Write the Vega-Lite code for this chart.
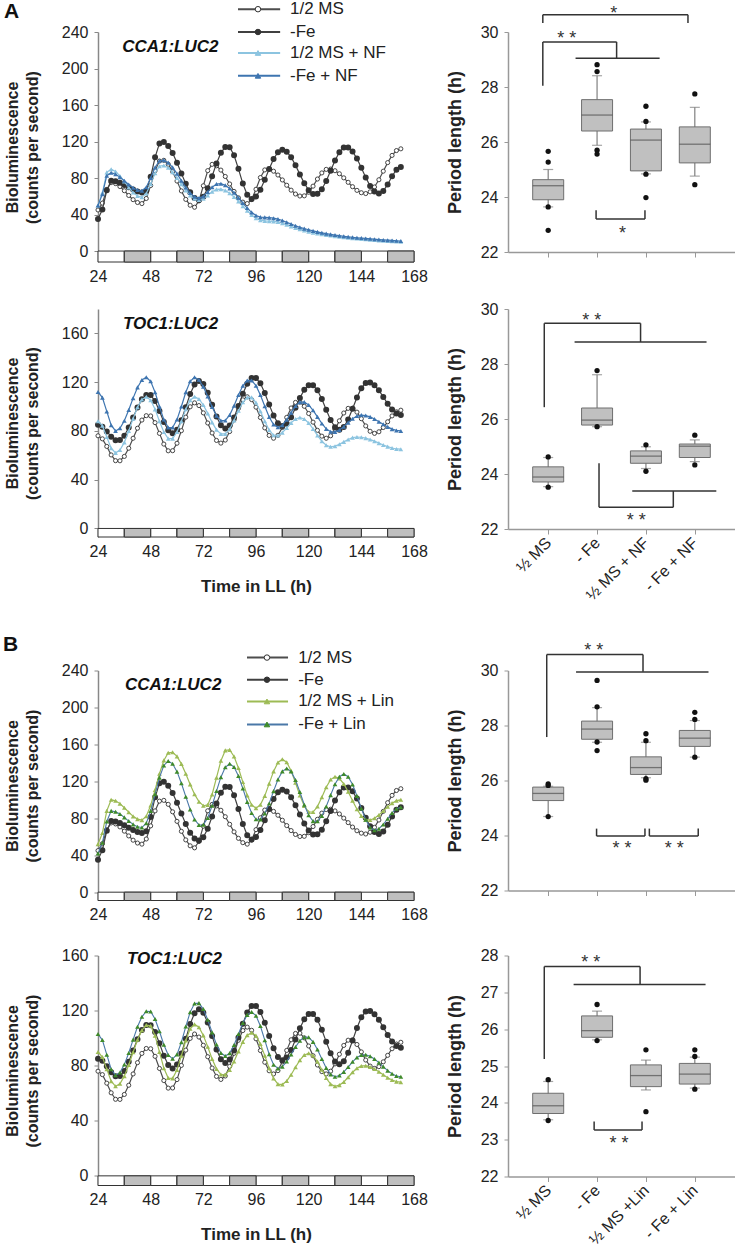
{
"$schema": "https://vega.github.io/schema/vega-lite/v6.json",
"background": "white",
"padding": {"left": 2, "top": 0, "right": 0, "bottom": 0},
"config": {"font": "Liberation Sans", "view": {"stroke": null}, "axis": {"grid": false, "labelColor": "#222", "labelFontSize": 16, "titleColor": "#222", "labelFont": "Liberation Sans", "titleFont": "Liberation Sans", "labelOverlap": false, "format": "d"}},
"datasets": {
"ld": [{"s":24,"e":36,"p":"L"},{"s":36,"e":48,"p":"D"},{"s":48,"e":60,"p":"L"},{"s":60,"e":72,"p":"D"},{"s":72,"e":84,"p":"L"},{"s":84,"e":96,"p":"D"},{"s":96,"e":108,"p":"L"},{"s":108,"e":120,"p":"D"},{"s":120,"e":132,"p":"L"},{"s":132,"e":144,"p":"D"},{"s":144,"e":156,"p":"L"},{"s":156,"e":168,"p":"D"}],
"leg": [
{"label":"1/2 MS","set":"NF","lv":265},{"label":"-Fe","set":"NF","lv":240},{"label":"1/2 MS + NF","set":"NF","lv":217},{"label":"-Fe + NF","set":"NF","lv":192},
{"label":"1/2 MS","set":"Lin","lv":254},{"label":"-Fe","set":"Lin","lv":230},{"label":"1/2 MS + Lin","set":"Lin","lv":206.5},{"label":"-Fe + Lin","set":"Lin","lv":181.6}
],
"cca": [
{"t":24,"ms":45,"fe":35,"msnf":50,"fenf":50,"mslin":52,"felin":42},
{"t":26,"ms":52.5,"fe":45.5,"msnf":63.8,"fenf":62.4,"mslin":64,"felin":53.5},
{"t":28,"ms":67.5,"fe":66.5,"msnf":86.2,"fenf":82.6,"mslin":88,"felin":76.5},
{"t":30,"ms":75,"fe":77,"msnf":89.7,"fenf":85.8,"mslin":100,"felin":88},
{"t":32,"ms":73.9,"fe":76.4,"msnf":87.1,"fenf":84.1,"mslin":98.9,"felin":87.1},
{"t":34,"ms":70.7,"fe":74.9,"msnf":82.3,"fenf":81,"mslin":95.9,"felin":84.6},
{"t":36,"ms":66.1,"fe":72.5,"msnf":76.1,"fenf":77,"mslin":91.4,"felin":81},
{"t":38,"ms":60.9,"fe":69.8,"msnf":69.7,"fenf":72.9,"mslin":86.6,"felin":77},
{"t":40,"ms":56.3,"fe":67.3,"msnf":64.1,"fenf":69.3,"mslin":82.1,"felin":73.4},
{"t":42,"ms":53.2,"fe":65.2,"msnf":60.3,"fenf":66.9,"mslin":79.1,"felin":70.9},
{"t":44,"ms":52,"fe":64.1,"msnf":59,"fenf":66,"mslin":78,"felin":70},
{"t":46,"ms":57.6,"fe":66.1,"msnf":63.1,"fenf":70,"mslin":82.2,"felin":74.8},
{"t":48,"ms":71.8,"fe":81.3,"msnf":73.5,"fenf":80,"mslin":94,"felin":88},
{"t":50,"ms":88,"fe":102.7,"msnf":85.3,"fenf":91.5,"mslin":110.6,"felin":106},
{"t":52,"ms":98.6,"fe":117.9,"msnf":93,"fenf":99,"mslin":128.2,"felin":124},
{"t":54,"ms":99.4,"fe":119.5,"msnf":93.7,"fenf":99.6,"mslin":142.7,"felin":137.2},
{"t":56,"ms":95.1,"fe":115.2,"msnf":91.2,"fenf":96.9,"mslin":150.9,"felin":142},
{"t":58,"ms":87,"fe":107.3,"msnf":86.5,"fenf":91.7,"mslin":151.4,"felin":139},
{"t":60,"ms":76.7,"fe":96.8,"msnf":80.2,"fenf":84.8,"mslin":147,"felin":130.5},
{"t":62,"ms":65.9,"fe":85.1,"msnf":73.3,"fenf":77.1,"mslin":138.9,"felin":117.9},
{"t":64,"ms":56.6,"fe":73.7,"msnf":66.5,"fenf":69.6,"mslin":128.3,"felin":103.4},
{"t":66,"ms":50.2,"fe":64.4,"msnf":61,"fenf":63.5,"mslin":116.7,"felin":89.5},
{"t":68,"ms":48,"fe":58.2,"msnf":57.3,"fenf":59.4,"mslin":106.1,"felin":78.7},
{"t":70,"ms":54.9,"fe":56,"msnf":56,"fenf":58,"mslin":98,"felin":72.8},
{"t":72,"ms":71.5,"fe":59.4,"msnf":57.4,"fenf":59.9,"mslin":93.6,"felin":73},
{"t":74,"ms":88.1,"fe":68.7,"msnf":61,"fenf":64.6,"mslin":94.5,"felin":80.4},
{"t":76,"ms":95,"fe":82,"msnf":65,"fenf":70,"mslin":105.8,"felin":93.6},
{"t":78,"ms":93.4,"fe":96,"msnf":67.6,"fenf":73.5,"mslin":124,"felin":109.5},
{"t":80,"ms":88.7,"fe":107.6,"msnf":67.8,"fenf":73.8,"mslin":142.2,"felin":124.5},
{"t":82,"ms":81.7,"fe":114.1,"msnf":66.3,"fenf":72,"mslin":153.5,"felin":135.2},
{"t":84,"ms":73.5,"fe":113.8,"msnf":63.3,"fenf":68.6,"mslin":154.1,"felin":139},
{"t":86,"ms":65.3,"fe":105,"msnf":59.3,"fenf":63.9,"mslin":146.9,"felin":135.5},
{"t":88,"ms":58.3,"fe":90.1,"msnf":54.4,"fenf":58.4,"mslin":134.4,"felin":125.8},
{"t":90,"ms":53.6,"fe":73.9,"msnf":49.2,"fenf":52.6,"mslin":119.2,"felin":112.2},
{"t":92,"ms":52,"fe":61.6,"msnf":44.1,"fenf":47.1,"mslin":104.8,"felin":97.6},
{"t":94,"ms":56.4,"fe":57,"msnf":39.6,"fenf":42.4,"mslin":94.6,"felin":85.7},
{"t":96,"ms":67.7,"fe":59.7,"msnf":36,"fenf":39,"mslin":91,"felin":78.9},
{"t":98,"ms":80.5,"fe":67.2,"msnf":33.8,"fenf":37.2,"mslin":94.6,"felin":78.8},
{"t":100,"ms":88.9,"fe":78,"msnf":33,"fenf":36.9,"mslin":104.3,"felin":85.1},
{"t":102,"ms":89.7,"fe":90,"msnf":32.8,"fenf":36.6,"mslin":117.5,"felin":96},
{"t":104,"ms":87.5,"fe":100.8,"msnf":32.5,"fenf":36,"mslin":130.8,"felin":109.4},
{"t":106,"ms":83.3,"fe":108.3,"msnf":31.8,"fenf":35,"mslin":140.4,"felin":121.9},
{"t":108,"ms":77.9,"fe":111,"msnf":30.5,"fenf":33.5,"mslin":144,"felin":130.8},
{"t":110,"ms":72.1,"fe":108.9,"msnf":28.8,"fenf":31.6,"mslin":140.7,"felin":134},
{"t":112,"ms":66.7,"fe":102.9,"msnf":27,"fenf":29.6,"mslin":131.5,"felin":130.7},
{"t":114,"ms":62.5,"fe":94.1,"msnf":25.3,"fenf":27.7,"mslin":118.5,"felin":121.5},
{"t":116,"ms":60.3,"fe":84,"msnf":23.8,"fenf":26,"mslin":104.7,"felin":108.5},
{"t":118,"ms":60.5,"fe":74.3,"msnf":22.5,"fenf":24.6,"mslin":93.3,"felin":94.7},
{"t":120,"ms":64.4,"fe":66.7,"msnf":21.3,"fenf":23.3,"mslin":86.9,"felin":83.3},
{"t":122,"ms":71.1,"fe":62.5,"msnf":20.2,"fenf":22.1,"mslin":86.8,"felin":76.9},
{"t":124,"ms":78.9,"fe":62.7,"msnf":19.3,"fenf":21,"mslin":92.7,"felin":76.8},
{"t":126,"ms":85.6,"fe":67.7,"msnf":18.5,"fenf":20,"mslin":102.7,"felin":82.6},
{"t":128,"ms":89.5,"fe":76.7,"msnf":17.7,"fenf":19.1,"mslin":113.6,"felin":92.7},
{"t":130,"ms":89.8,"fe":88,"msnf":17,"fenf":18.3,"mslin":121.9,"felin":105.1},
{"t":132,"ms":88,"fe":99.3,"msnf":16.3,"fenf":17.5,"mslin":125,"felin":116.8},
{"t":134,"ms":84.7,"fe":108.3,"msnf":15.7,"fenf":16.8,"mslin":123,"felin":125},
{"t":136,"ms":80.2,"fe":113.4,"msnf":15.1,"fenf":16.2,"mslin":117.2,"felin":128},
{"t":138,"ms":75.3,"fe":113.4,"msnf":14.6,"fenf":15.6,"mslin":108.8,"felin":125},
{"t":140,"ms":70.5,"fe":109.2,"msnf":14.1,"fenf":15.1,"mslin":99.1,"felin":116.5},
{"t":142,"ms":66.5,"fe":101.3,"msnf":13.7,"fenf":14.6,"mslin":89.8,"felin":104.3},
{"t":144,"ms":63.9,"fe":91.2,"msnf":13.3,"fenf":14.2,"mslin":82.5,"felin":90.7},
{"t":146,"ms":63,"fe":80.6,"msnf":12.9,"fenf":13.8,"mslin":78.5,"felin":78.5},
{"t":148,"ms":64.9,"fe":71.4,"msnf":12.5,"fenf":13.4,"mslin":78.2,"felin":70},
{"t":150,"ms":70.2,"fe":65.2,"msnf":12.1,"fenf":13,"mslin":80.1,"felin":67},
{"t":152,"ms":78.1,"fe":63,"msnf":11.7,"fenf":12.6,"mslin":83.5,"felin":68.7},
{"t":154,"ms":87.5,"fe":65.8,"msnf":11.3,"fenf":12.2,"mslin":87.9,"felin":73.3},
{"t":156,"ms":96.9,"fe":73,"msnf":11,"fenf":11.9,"mslin":92.4,"felin":79.5},
{"t":158,"ms":104.8,"fe":82,"msnf":10.7,"fenf":11.6,"mslin":96.4,"felin":85.8},
{"t":160,"ms":110.1,"fe":89.2,"msnf":10.4,"fenf":11.3,"mslin":99.1,"felin":90.3},
{"t":162,"ms":112,"fe":92,"msnf":10.2,"fenf":11,"mslin":100,"felin":92}
],
"toc": [
{"t":24,"ms":76,"fe":85,"msnf":88,"fenf":112,"mslin":90,"felin":103},
{"t":26,"ms":73.5,"fe":83.5,"msnf":84.2,"fenf":107.3,"mslin":86.3,"felin":98.6},
{"t":28,"ms":67.3,"fe":79.6,"msnf":75,"fenf":96,"mslin":77.5,"felin":88},
{"t":30,"ms":60.3,"fe":75.3,"msnf":65.8,"fenf":84.7,"mslin":68.7,"felin":77.4},
{"t":32,"ms":55.6,"fe":72.4,"msnf":62,"fenf":80,"mslin":65,"felin":73},
{"t":34,"ms":55.5,"fe":72.5,"msnf":64.3,"fenf":82.2,"mslin":66.9,"felin":75},
{"t":36,"ms":59.1,"fe":76.1,"msnf":70.6,"fenf":88.3,"mslin":72.4,"felin":80.8},
{"t":38,"ms":65.8,"fe":82.8,"msnf":79.9,"fenf":97.1,"mslin":80.5,"felin":89.2},
{"t":40,"ms":74,"fe":91,"msnf":90.1,"fenf":106.9,"mslin":89.8,"felin":98.9},
{"t":42,"ms":82.2,"fe":99.2,"msnf":99.4,"fenf":115.7,"mslin":98.8,"felin":108.3},
{"t":44,"ms":88.9,"fe":105.9,"msnf":105.7,"fenf":121.8,"mslin":105.7,"felin":115.5},
{"t":46,"ms":92.5,"fe":109.5,"msnf":108,"fenf":124,"mslin":109.5,"felin":119.5},
{"t":48,"ms":92.3,"fe":109.4,"msnf":105.2,"fenf":120.7,"mslin":109,"felin":119.3},
{"t":50,"ms":86.8,"fe":104.5,"msnf":97.7,"fenf":111.7,"mslin":101.8,"felin":113.9},
{"t":52,"ms":78,"fe":96.3,"msnf":88,"fenf":100,"mslin":90,"felin":105},
{"t":54,"ms":69.2,"fe":87.3,"msnf":79.1,"fenf":89.3,"mslin":78.2,"felin":95.2},
{"t":56,"ms":63.7,"fe":80.5,"msnf":73.7,"fenf":82.8,"mslin":71,"felin":87.8},
{"t":58,"ms":63.8,"fe":78,"msnf":73.7,"fenf":82.8,"mslin":70.8,"felin":85},
{"t":60,"ms":69.9,"fe":80.9,"msnf":79.1,"fenf":89.3,"mslin":76.9,"felin":88.2},
{"t":62,"ms":80.2,"fe":88.8,"msnf":88,"fenf":100,"mslin":87.2,"felin":97},
{"t":64,"ms":91.3,"fe":99.5,"msnf":97.8,"fenf":111.7,"mslin":98.3,"felin":108.4},
{"t":66,"ms":99.8,"fe":110.3,"msnf":105.2,"fenf":120.7,"mslin":106.8,"felin":118.9},
{"t":68,"ms":103,"fe":118.1,"msnf":108,"fenf":124,"mslin":110,"felin":125.2},
{"t":70,"ms":100.8,"fe":121,"msnf":106.2,"fenf":121.9,"mslin":107.9,"felin":125.4},
{"t":72,"ms":94.8,"fe":118.4,"msnf":101.3,"fenf":116.2,"mslin":102,"felin":121.1},
{"t":74,"ms":86.5,"fe":111.3,"msnf":94.4,"fenf":108.2,"mslin":93.7,"felin":113.4},
{"t":76,"ms":78.3,"fe":101.5,"msnf":87,"fenf":99.6,"mslin":84.9,"felin":104.2},
{"t":78,"ms":72.2,"fe":91.8,"msnf":80.9,"fenf":92.5,"mslin":77.7,"felin":95.4},
{"t":80,"ms":70,"fe":84.6,"msnf":77.5,"fenf":88.5,"mslin":73.6,"felin":89.2},
{"t":82,"ms":72.5,"fe":82,"msnf":77.5,"fenf":88.6,"mslin":73.5,"felin":87},
{"t":84,"ms":79.5,"fe":84.4,"msnf":81.5,"fenf":93,"mslin":76.9,"felin":89.1},
{"t":86,"ms":89,"fe":91.1,"msnf":88.5,"fenf":100.6,"mslin":83,"felin":95},
{"t":88,"ms":98.5,"fe":100.5,"msnf":96.5,"fenf":109.4,"mslin":90.4,"felin":103},
{"t":90,"ms":105.5,"fe":110.5,"msnf":103.5,"fenf":117,"mslin":97.3,"felin":111},
{"t":92,"ms":108,"fe":118.7,"msnf":107.5,"fenf":121.4,"mslin":102.2,"felin":116.9},
{"t":94,"ms":105.7,"fe":123.4,"msnf":107.5,"fenf":121.4,"mslin":104,"felin":119},
{"t":96,"ms":99.5,"fe":123.4,"msnf":103.3,"fenf":117.1,"mslin":101.8,"felin":116.3},
{"t":98,"ms":91,"fe":119,"msnf":96.1,"fenf":109.4,"mslin":95.8,"felin":108.8},
{"t":100,"ms":82.5,"fe":111.1,"msnf":87.9,"fenf":100.2,"mslin":87.3,"felin":98.5},
{"t":102,"ms":76.3,"fe":101.6,"msnf":80.7,"fenf":91.4,"mslin":78.2,"felin":88.3},
{"t":104,"ms":74,"fe":92.6,"msnf":76.5,"fenf":85.2,"mslin":70.8,"felin":80.7},
{"t":106,"ms":76.4,"fe":86.3,"msnf":76.3,"fenf":83,"mslin":66.6,"felin":78},
{"t":108,"ms":82.8,"fe":84,"msnf":78.6,"fenf":84.7,"mslin":66.3,"felin":79.3},
{"t":110,"ms":91.1,"fe":85.9,"msnf":82.4,"fenf":89.2,"mslin":68.9,"felin":83},
{"t":112,"ms":98.8,"fe":91.3,"msnf":86.6,"fenf":95,"mslin":73.4,"felin":88.1},
{"t":114,"ms":103.4,"fe":99,"msnf":89.8,"fenf":100.4,"mslin":78.9,"felin":93.6},
{"t":116,"ms":103.6,"fe":107.1,"msnf":91,"fenf":103.6,"mslin":84,"felin":98.1},
{"t":118,"ms":100.2,"fe":113.7,"msnf":89.8,"fenf":103.7,"mslin":87.7,"felin":100.7},
{"t":120,"ms":94.3,"fe":117.5,"msnf":86.5,"fenf":101.3,"mslin":89,"felin":100.6},
{"t":122,"ms":87.2,"fe":117.5,"msnf":81.7,"fenf":96.9,"mslin":87.4,"felin":97.3},
{"t":124,"ms":80.5,"fe":113.3,"msnf":76.3,"fenf":91.5,"mslin":83,"felin":91.7},
{"t":126,"ms":75.7,"fe":106.1,"msnf":71.5,"fenf":86.1,"mslin":77,"felin":84.8},
{"t":128,"ms":74,"fe":97.3,"msnf":68.2,"fenf":81.7,"mslin":71,"felin":78.3},
{"t":130,"ms":76,"fe":89,"msnf":67,"fenf":79.3,"mslin":66.6,"felin":73.7},
{"t":132,"ms":81.3,"fe":83.1,"msnf":67.5,"fenf":79.2,"mslin":65,"felin":72},
{"t":134,"ms":88.3,"fe":81,"msnf":69,"fenf":80.8,"mslin":65.9,"felin":72.9},
{"t":136,"ms":94.7,"fe":83.2,"msnf":71,"fenf":83.5,"mslin":68.2,"felin":75.5},
{"t":138,"ms":98.5,"fe":89.4,"msnf":73,"fenf":86.8,"mslin":71.6,"felin":79},
{"t":140,"ms":98.6,"fe":98.2,"msnf":74.5,"fenf":90,"mslin":75.2,"felin":82.8},
{"t":142,"ms":95.4,"fe":107.4,"msnf":75,"fenf":92.2,"mslin":78.1,"felin":86},
{"t":144,"ms":90,"fe":115.1,"msnf":74.8,"fenf":93,"mslin":79.8,"felin":87.8},
{"t":146,"ms":84.1,"fe":119.4,"msnf":74.1,"fenf":92.6,"mslin":79.9,"felin":87.9},
{"t":148,"ms":79.7,"fe":119.7,"msnf":72.9,"fenf":91.5,"mslin":79.1,"felin":86.8},
{"t":150,"ms":78,"fe":117.4,"msnf":71.6,"fenf":89.8,"mslin":77.6,"felin":84.8},
{"t":152,"ms":79.3,"fe":113.3,"msnf":70,"fenf":87.6,"mslin":75.6,"felin":82.2},
{"t":154,"ms":82.8,"fe":107.9,"msnf":68.5,"fenf":85.4,"mslin":73.4,"felin":79.3},
{"t":156,"ms":87.5,"fe":102.3,"msnf":67.1,"fenf":83.3,"mslin":71.3,"felin":76.4},
{"t":158,"ms":92.3,"fe":97.5,"msnf":66,"fenf":81.5,"mslin":69.6,"felin":74.1},
{"t":160,"ms":95.7,"fe":94.2,"msnf":65.2,"fenf":80.4,"mslin":68.4,"felin":72.5},
{"t":162,"ms":97,"fe":93,"msnf":65,"fenf":80,"mslin":68,"felin":72}
],
"boxes": [
{"panel":"A1","g":1,"lo":23.64,"q1":23.9,"med":24.41,"q3":24.63,"hi":25.0},
{"panel":"A1","g":2,"lo":25.88,"q1":26.4,"med":26.98,"q3":27.54,"hi":28.41},
{"panel":"A1","g":3,"lo":24.84,"q1":24.95,"med":26.07,"q3":26.47,"hi":26.73},
{"panel":"A1","g":4,"lo":24.76,"q1":25.24,"med":25.92,"q3":26.55,"hi":27.26},
{"panel":"A2","g":1,"lo":23.54,"q1":23.71,"med":23.89,"q3":24.26,"hi":24.6},
{"panel":"A2","g":2,"lo":25.72,"q1":25.78,"med":25.96,"q3":26.4,"hi":27.61},
{"panel":"A2","g":3,"lo":24.2,"q1":24.39,"med":24.65,"q3":24.84,"hi":24.99},
{"panel":"A2","g":4,"lo":24.45,"q1":24.6,"med":25.01,"q3":25.09,"hi":25.24},
{"panel":"B1","g":1,"lo":24.69,"q1":25.27,"med":25.53,"q3":25.76,"hi":25.79},
{"panel":"B1","g":2,"lo":27.39,"q1":27.5,"med":27.87,"q3":28.16,"hi":28.65},
{"panel":"B1","g":3,"lo":26.1,"q1":26.22,"med":26.47,"q3":26.86,"hi":27.39},
{"panel":"B1","g":4,"lo":26.85,"q1":27.24,"med":27.54,"q3":27.82,"hi":28.18},
{"panel":"B2","g":1,"lo":23.54,"q1":23.71,"med":23.92,"q3":24.26,"hi":24.58},
{"panel":"B2","g":2,"lo":25.71,"q1":25.78,"med":25.96,"q3":26.36,"hi":26.49},
{"panel":"B2","g":3,"lo":24.35,"q1":24.44,"med":24.74,"q3":25.03,"hi":25.16},
{"panel":"B2","g":4,"lo":24.4,"q1":24.51,"med":24.78,"q3":25.07,"hi":25.24}
],
"outl": [
{"panel":"A1","g":1,"v":25.66},{"panel":"A1","g":1,"v":25.27},{"panel":"A1","g":1,"v":23.64},{"panel":"A1","g":1,"v":22.79},
{"panel":"A1","g":2,"v":28.81},{"panel":"A1","g":2,"v":28.56},{"panel":"A1","g":2,"v":25.7},{"panel":"A1","g":2,"v":25.56},
{"panel":"A1","g":3,"v":27.3},{"panel":"A1","g":3,"v":26.75},{"panel":"A1","g":3,"v":24.83},{"panel":"A1","g":3,"v":23.98},
{"panel":"A1","g":4,"v":27.75},{"panel":"A1","g":4,"v":24.45},
{"panel":"A2","g":1,"v":24.62},{"panel":"A2","g":1,"v":23.52},
{"panel":"A2","g":2,"v":27.76},{"panel":"A2","g":2,"v":25.72},
{"panel":"A2","g":3,"v":25.06},{"panel":"A2","g":3,"v":24.1},
{"panel":"A2","g":4,"v":25.41},{"panel":"A2","g":4,"v":24.33},
{"panel":"B1","g":1,"v":25.88},{"panel":"B1","g":1,"v":25.82},{"panel":"B1","g":1,"v":24.69},
{"panel":"B1","g":2,"v":29.64},{"panel":"B1","g":2,"v":28.68},{"panel":"B1","g":2,"v":27.4},{"panel":"B1","g":2,"v":27.09},
{"panel":"B1","g":3,"v":27.7},{"panel":"B1","g":3,"v":27.45},{"panel":"B1","g":3,"v":26.07},{"panel":"B1","g":3,"v":26.01},
{"panel":"B1","g":4,"v":28.48},{"panel":"B1","g":4,"v":28.22},{"panel":"B1","g":4,"v":26.85},
{"panel":"B2","g":1,"v":24.63},{"panel":"B2","g":1,"v":23.52},
{"panel":"B2","g":2,"v":26.67},{"panel":"B2","g":2,"v":25.69},
{"panel":"B2","g":3,"v":25.44},{"panel":"B2","g":3,"v":23.76},
{"panel":"B2","g":4,"v":25.44},{"panel":"B2","g":4,"v":25.26},{"panel":"B2","g":4,"v":24.37}
],
"brk": [
{"panel":"A1","x":0.89,"x2":3.86,"y":30.63,"y2":30.63},{"panel":"A1","x":0.89,"x2":0.89,"y":30.63,"y2":30.33},{"panel":"A1","x":3.86,"x2":3.86,"y":30.63,"y2":30.33},
{"panel":"A1","x":0.89,"x2":0.89,"y":28.05,"y2":29.64},{"panel":"A1","x":0.89,"x2":2.4,"y":29.64,"y2":29.64},{"panel":"A1","x":2.4,"x2":2.4,"y":29.64,"y2":29.05},{"panel":"A1","x":1.56,"x2":3.28,"y":29.05,"y2":29.05},
{"panel":"A1","x":1.98,"x2":2.98,"y":23.2,"y2":23.2},{"panel":"A1","x":1.98,"x2":1.98,"y":23.2,"y2":23.52},{"panel":"A1","x":2.98,"x2":2.98,"y":23.2,"y2":23.52},
{"panel":"A2","x":0.92,"x2":0.92,"y":26.43,"y2":29.48},{"panel":"A2","x":0.92,"x2":2.89,"y":29.48,"y2":29.48},{"panel":"A2","x":2.89,"x2":2.89,"y":29.48,"y2":28.8},{"panel":"A2","x":1.54,"x2":4.24,"y":28.8,"y2":28.8},
{"panel":"A2","x":2.04,"x2":2.04,"y":24.39,"y2":22.79},{"panel":"A2","x":2.04,"x2":3.56,"y":22.79,"y2":22.79},{"panel":"A2","x":3.56,"x2":3.56,"y":22.79,"y2":23.38},{"panel":"A2","x":2.72,"x2":4.44,"y":23.38,"y2":23.38},
{"panel":"B1","x":0.97,"x2":0.97,"y":27.58,"y2":30.58},{"panel":"B1","x":0.97,"x2":2.94,"y":30.58,"y2":30.58},{"panel":"B1","x":2.94,"x2":2.94,"y":30.58,"y2":29.95},{"panel":"B1","x":1.57,"x2":4.28,"y":29.95,"y2":29.95},
{"panel":"B1","x":1.99,"x2":2.98,"y":23.98,"y2":23.98},{"panel":"B1","x":1.99,"x2":1.99,"y":23.98,"y2":24.25},{"panel":"B1","x":2.98,"x2":2.98,"y":23.98,"y2":24.25},
{"panel":"B1","x":3.07,"x2":4.07,"y":23.98,"y2":23.98},{"panel":"B1","x":3.07,"x2":3.07,"y":23.98,"y2":24.25},{"panel":"B1","x":4.07,"x2":4.07,"y":23.98,"y2":24.25},
{"panel":"B2","x":0.92,"x2":0.92,"y":25.19,"y2":27.7},{"panel":"B2","x":0.92,"x2":2.88,"y":27.7,"y2":27.7},{"panel":"B2","x":2.88,"x2":2.88,"y":27.7,"y2":27.21},{"panel":"B2","x":1.52,"x2":4.22,"y":27.21,"y2":27.21},
{"panel":"B2","x":1.94,"x2":2.92,"y":23.26,"y2":23.26},{"panel":"B2","x":1.94,"x2":1.94,"y":23.26,"y2":23.49},{"panel":"B2","x":2.92,"x2":2.92,"y":23.26,"y2":23.49}
],
"stars": [
{"panel":"A1","x":2.34,"y":30.49,"s":"*"},{"panel":"A1","x":1.38,"y":29.58,"s":"* *"},{"panel":"A1","x":2.52,"y":22.49,"s":"*"},
{"panel":"A2","x":1.89,"y":29.37,"s":"* *"},{"panel":"A2","x":2.8,"y":22.1,"s":"* *"},
{"panel":"B1","x":1.93,"y":30.53,"s":"* *"},{"panel":"B1","x":2.51,"y":23.32,"s":"* *"},{"panel":"B1","x":3.58,"y":23.32,"s":"* *"},
{"panel":"B2","x":1.87,"y":27.67,"s":"* *"},{"panel":"B2","x":2.45,"y":22.74,"s":"* *"}
]
},
"spacing": 29.5,
"vconcat": [
{"spacing": 17, "vconcat": [
 {"spacing": 94, "bounds": "flush", "hconcat": [
  {"width": 316, "height": 230, "layer": [
   {"data": {"name": "ld"}, "mark": {"type": "rect", "fill": "#ffffff", "stroke": "#333", "strokeWidth": 1},
    "encoding": {
     "x": {"field": "s", "type": "quantitative", "scale": {"domain": [24, 168], "nice": false, "zero": false}, "axis": {"values": [24,48,72,96,120,144,168], "tickCount": 20, "format": "d", "domain": false, "ticks": false, "labelPadding": 6, "title": null, "labelFlush": false, "labelOverlap": false}},
     "x2": {"field": "e"},
     "y": {"datum": 0, "type": "quantitative", "scale": {"domain": [-12, 240], "nice": false, "zero": false}, "axis": {"values": [0,40,80,120,160,200,240], "tickCount": 20, "format": "d", "labelOverlap": false, "title": ["Bioluminescence", "(counts per second)"], "titleFontSize": 16, "titleFontWeight": "bold", "titleLineHeight": 20, "titlePadding": 18, "minExtent": 40, "maxExtent": 40, "tickSize": 4, "labelPadding": 6, "domainColor": "#888", "tickColor": "#888", "domainWidth": 1.5}},
     "y2": {"datum": -12}}},
   {"data": {"name": "ld"}, "transform": [{"filter": "datum.p === 'D'"}], "mark": {"type": "rect", "fill": "#bfbfbf", "stroke": "#333", "strokeWidth": 1},
    "encoding": {"x": {"field": "s", "type": "quantitative"}, "x2": {"field": "e"}, "y": {"datum": 0, "type": "quantitative"}, "y2": {"datum": -12}}},
   {"data": {"name": "cca"}, "mark": {"type": "line", "color": "#4d4d4d", "strokeWidth": 1.2, "point": {"shape": "circle", "filled": true, "fill": "#ffffff", "stroke": "#333", "strokeWidth": 0.9, "size": 17}},
    "encoding": {"x": {"field": "t", "type": "quantitative"}, "y": {"field": "ms", "type": "quantitative"}}},
   {"data": {"name": "cca"}, "mark": {"type": "line", "color": "#404040", "strokeWidth": 1.2, "point": {"shape": "circle", "filled": true, "fill": "#333", "stroke": "#333", "size": 16}},
    "encoding": {"x": {"field": "t", "type": "quantitative"}, "y": {"field": "fe", "type": "quantitative"}}},
   {"data": {"name": "cca"}, "mark": {"type": "line", "color": "#8cc4e0", "strokeWidth": 1.2, "point": {"shape": "triangle-up", "filled": true, "fill": "#8cc4e0", "size": 22}},
    "encoding": {"x": {"field": "t", "type": "quantitative"}, "y": {"field": "msnf", "type": "quantitative"}}},
   {"data": {"name": "cca"}, "mark": {"type": "line", "color": "#3e75b0", "strokeWidth": 1.2, "point": {"shape": "triangle-up", "filled": true, "fill": "#3e75b0", "size": 22}},
    "encoding": {"x": {"field": "t", "type": "quantitative"}, "y": {"field": "fenf", "type": "quantitative"}}},
   {"data": {"name": "leg"}, "transform": [{"filter": "datum.set === 'NF'"}],
    "mark": {"type": "rule", "strokeWidth": 2},
    "encoding": {"x": {"datum": 87.8, "type": "quantitative"}, "x2": {"datum": 107}, "y": {"field": "lv", "type": "quantitative"},
     "color": {"field": "label", "type": "nominal", "scale": {"domain": ["1/2 MS", "-Fe", "1/2 MS + NF", "-Fe + NF", "1/2 MS + Lin", "-Fe + Lin"], "range": ["#4d4d4d", "#404040", "#8cc4e0", "#3e75b0", "#9dbb55", "#4a78a8"]}, "legend": null}}},
   {"data": {"name": "leg"}, "transform": [{"filter": "datum.set === 'NF'"}],
    "mark": {"type": "point", "filled": true, "size": 30, "strokeWidth": 1, "opacity": 1},
    "encoding": {"x": {"datum": 96.9, "type": "quantitative"}, "y": {"field": "lv", "type": "quantitative"},
     "shape": {"field": "label", "type": "nominal", "scale": {"domain": ["1/2 MS", "-Fe", "1/2 MS + NF", "-Fe + NF", "1/2 MS + Lin", "-Fe + Lin"], "range": ["circle", "circle", "triangle-up", "triangle-up", "triangle-up", "triangle-up"]}, "legend": null},
     "fill": {"field": "label", "type": "nominal", "scale": {"domain": ["1/2 MS", "-Fe", "1/2 MS + NF", "-Fe + NF", "1/2 MS + Lin", "-Fe + Lin"], "range": ["#ffffff", "#333333", "#8cc4e0", "#3e75b0", "#9dbb55", "#3e8a2a"]}, "legend": null},
     "stroke": {"field": "label", "type": "nominal", "scale": {"domain": ["1/2 MS", "-Fe", "1/2 MS + NF", "-Fe + NF", "1/2 MS + Lin", "-Fe + Lin"], "range": ["#333333", "#333333", "#8cc4e0", "#3e75b0", "#9dbb55", "#3e8a2a"]}, "legend": null}}},
   {"data": {"name": "leg"}, "transform": [{"filter": "datum.set === 'NF'"}],
    "mark": {"type": "text", "align": "left", "baseline": "middle", "fontSize": 17, "color": "#222"},
    "encoding": {"x": {"datum": 111.5, "type": "quantitative"}, "y": {"field": "lv", "type": "quantitative"}, "text": {"field": "label"}}},
   {"data": {"values": [{"lab": "CCA1:LUC2"}]}, "mark": {"type": "text", "align": "left", "baseline": "middle", "fontSize": 17, "fontWeight": "bold", "fontStyle": "italic", "color": "#111"},
    "encoding": {"x": {"datum": 35, "type": "quantitative"}, "y": {"datum": 223.5, "type": "quantitative"}, "text": {"field": "lab"}}},
   {"data": {"values": [{"lab": "A"}]}, "mark": {"type": "text", "align": "left", "baseline": "middle", "fontSize": 21, "fontWeight": "bold", "color": "#111"},
    "encoding": {"x": {"datum": -18.8, "type": "quantitative"}, "y": {"datum": 261.9, "type": "quantitative"}, "text": {"field": "lab"}}}
  ]},
  {"width": 227, "height": 220, "layer": [
   {"data": {"name": "boxes"}, "transform": [{"filter": "datum.panel === 'A1'"}], "mark": {"type": "rule", "color": "#808080", "strokeWidth": 1.2},
    "encoding": {
     "x": {"field": "g", "type": "quantitative", "scale": {"domain": [0.28, 4.72], "nice": false, "zero": false}, "axis": {"values": [1,2,3,4], "tickCount": 20, "labels": false, "tickSize": 5, "title": null, "domainColor": "#999", "tickColor": "#999", "domainWidth": 1.5}},
     "y": {"field": "lo", "type": "quantitative", "scale": {"domain": [22, 30], "nice": false, "zero": false}, "axis": {"values": [22,24,26,28,30], "tickCount": 20, "format": "d", "labelOverlap": false, "title": "Period length (h)", "titleFontSize": 18, "titleFontWeight": "bold", "titlePadding": 16, "minExtent": 28, "maxExtent": 28, "tickSize": 4, "labelPadding": 6, "domainColor": "#999", "tickColor": "#999", "domainWidth": 1.5}},
     "y2": {"field": "hi"}}},
   {"data": {"name": "boxes"}, "transform": [{"filter": "datum.panel === 'A1'"}], "mark": {"type": "bar", "orient": "vertical", "size": 31, "fill": "#c0c0c0", "stroke": "#6e6e6e", "strokeWidth": 1},
    "encoding": {"x": {"field": "g", "type": "quantitative"}, "y": {"field": "q1", "type": "quantitative"}, "y2": {"field": "q3"}}},
   {"data": {"name": "boxes"}, "transform": [{"filter": "datum.panel === 'A1'"}], "mark": {"type": "tick", "orient": "horizontal", "size": 31, "thickness": 1.3, "color": "#505050"},
    "encoding": {"x": {"field": "g", "type": "quantitative"}, "y": {"field": "med", "type": "quantitative"}}},
   {"data": {"name": "boxes"}, "transform": [{"filter": "datum.panel === 'A1'"}, {"fold": ["lo", "hi"], "as": ["k", "cv"]}], "mark": {"type": "tick", "orient": "horizontal", "size": 10, "thickness": 1.2, "color": "#808080"},
    "encoding": {"x": {"field": "g", "type": "quantitative"}, "y": {"field": "cv", "type": "quantitative"}}},
   {"data": {"name": "outl"}, "transform": [{"filter": "datum.panel === 'A1'"}], "mark": {"type": "circle", "size": 28, "color": "#111", "opacity": 1},
    "encoding": {"x": {"field": "g", "type": "quantitative"}, "y": {"field": "v", "type": "quantitative"}}},
   {"data": {"name": "brk"}, "transform": [{"filter": "datum.panel === 'A1'"}], "mark": {"type": "rule", "color": "#333", "strokeWidth": 1.5},
    "encoding": {"x": {"field": "x", "type": "quantitative"}, "x2": {"field": "x2"}, "y": {"field": "y", "type": "quantitative"}, "y2": {"field": "y2"}}},
   {"data": {"name": "stars"}, "transform": [{"filter": "datum.panel === 'A1'"}], "mark": {"type": "text", "fontSize": 18, "color": "#333", "align": "center", "baseline": "alphabetic"},
    "encoding": {"x": {"field": "x", "type": "quantitative"}, "y": {"field": "y", "type": "quantitative"}, "text": {"field": "s"}}}
  ]}
 ]},
 {"spacing": 94, "bounds": "flush", "hconcat": [
  {"width": 316, "height": 228, "layer": [
   {"data": {"name": "ld"}, "mark": {"type": "rect", "fill": "#ffffff", "stroke": "#333", "strokeWidth": 1},
    "encoding": {
     "x": {"field": "s", "type": "quantitative", "scale": {"domain": [24, 168], "nice": false, "zero": false}, "axis": {"values": [24,48,72,96,120,144,168], "tickCount": 20, "format": "d", "domain": false, "ticks": false, "labelPadding": 6, "title": "Time in LL (h)", "titleFontSize": 17, "titleFontWeight": "bold", "titlePadding": 19, "labelFlush": false, "labelOverlap": false}},
     "x2": {"field": "e"},
     "y": {"datum": 0, "type": "quantitative", "scale": {"domain": [-7, 180], "nice": false, "zero": false}, "axis": {"values": [0,40,80,120,160], "tickCount": 20, "format": "d", "labelOverlap": false, "title": ["Bioluminescence", "(counts per second)"], "titleFontSize": 16, "titleFontWeight": "bold", "titleLineHeight": 20, "titlePadding": 18, "minExtent": 40, "maxExtent": 40, "tickSize": 4, "labelPadding": 6, "domainColor": "#888", "tickColor": "#888", "domainWidth": 1.5}},
     "y2": {"datum": -7}}},
   {"data": {"name": "ld"}, "transform": [{"filter": "datum.p === 'D'"}], "mark": {"type": "rect", "fill": "#bfbfbf", "stroke": "#333", "strokeWidth": 1},
    "encoding": {"x": {"field": "s", "type": "quantitative"}, "x2": {"field": "e"}, "y": {"datum": 0, "type": "quantitative"}, "y2": {"datum": -7}}},
   {"data": {"name": "toc"}, "mark": {"type": "line", "color": "#4d4d4d", "strokeWidth": 1.2, "point": {"shape": "circle", "filled": true, "fill": "#ffffff", "stroke": "#333", "strokeWidth": 0.9, "size": 17}},
    "encoding": {"x": {"field": "t", "type": "quantitative"}, "y": {"field": "ms", "type": "quantitative"}}},
   {"data": {"name": "toc"}, "mark": {"type": "line", "color": "#404040", "strokeWidth": 1.2, "point": {"shape": "circle", "filled": true, "fill": "#333", "stroke": "#333", "size": 16}},
    "encoding": {"x": {"field": "t", "type": "quantitative"}, "y": {"field": "fe", "type": "quantitative"}}},
   {"data": {"name": "toc"}, "mark": {"type": "line", "color": "#8cc4e0", "strokeWidth": 1.2, "point": {"shape": "triangle-up", "filled": true, "fill": "#8cc4e0", "size": 22}},
    "encoding": {"x": {"field": "t", "type": "quantitative"}, "y": {"field": "msnf", "type": "quantitative"}}},
   {"data": {"name": "toc"}, "mark": {"type": "line", "color": "#3e75b0", "strokeWidth": 1.2, "point": {"shape": "triangle-up", "filled": true, "fill": "#3e75b0", "size": 22}},
    "encoding": {"x": {"field": "t", "type": "quantitative"}, "y": {"field": "fenf", "type": "quantitative"}}},
   {"data": {"values": [{"lab": "TOC1:LUC2"}]}, "mark": {"type": "text", "align": "left", "baseline": "middle", "fontSize": 17, "fontWeight": "bold", "fontStyle": "italic", "color": "#111"},
    "encoding": {"x": {"datum": 35.4, "type": "quantitative"}, "y": {"datum": 167.7, "type": "quantitative"}, "text": {"field": "lab"}}}
  ]},
  {"width": 227, "height": 220, "layer": [
   {"data": {"name": "boxes"}, "transform": [{"filter": "datum.panel === 'A2'"}], "mark": {"type": "rule", "color": "#808080", "strokeWidth": 1.2},
    "encoding": {
     "x": {"field": "g", "type": "quantitative", "scale": {"domain": [0.28, 4.72], "nice": false, "zero": false}, "axis": {"values": [1,2,3,4], "tickCount": 20, "labelExpr": "datum.value === 1 ? '½ MS' : datum.value === 2 ? '- Fe' : datum.value === 3 ? '½ MS + NF' : '- Fe + NF'", "labelAngle": -45, "labelAlign": "right", "labelBaseline": "middle", "labelPadding": 6, "labelFlush": false, "labelOverlap": false, "labelBound": false, "tickSize": 5, "title": null, "domainColor": "#999", "tickColor": "#999", "domainWidth": 1.5}},
     "y": {"field": "lo", "type": "quantitative", "scale": {"domain": [22, 30], "nice": false, "zero": false}, "axis": {"values": [22,24,26,28,30], "tickCount": 20, "format": "d", "labelOverlap": false, "title": "Period length (h)", "titleFontSize": 18, "titleFontWeight": "bold", "titlePadding": 16, "minExtent": 28, "maxExtent": 28, "tickSize": 4, "labelPadding": 6, "domainColor": "#999", "tickColor": "#999", "domainWidth": 1.5}},
     "y2": {"field": "hi"}}},
   {"data": {"name": "boxes"}, "transform": [{"filter": "datum.panel === 'A2'"}], "mark": {"type": "bar", "orient": "vertical", "size": 31, "fill": "#c0c0c0", "stroke": "#6e6e6e", "strokeWidth": 1},
    "encoding": {"x": {"field": "g", "type": "quantitative"}, "y": {"field": "q1", "type": "quantitative"}, "y2": {"field": "q3"}}},
   {"data": {"name": "boxes"}, "transform": [{"filter": "datum.panel === 'A2'"}], "mark": {"type": "tick", "orient": "horizontal", "size": 31, "thickness": 1.3, "color": "#505050"},
    "encoding": {"x": {"field": "g", "type": "quantitative"}, "y": {"field": "med", "type": "quantitative"}}},
   {"data": {"name": "boxes"}, "transform": [{"filter": "datum.panel === 'A2'"}, {"fold": ["lo", "hi"], "as": ["k", "cv"]}], "mark": {"type": "tick", "orient": "horizontal", "size": 10, "thickness": 1.2, "color": "#808080"},
    "encoding": {"x": {"field": "g", "type": "quantitative"}, "y": {"field": "cv", "type": "quantitative"}}},
   {"data": {"name": "outl"}, "transform": [{"filter": "datum.panel === 'A2'"}], "mark": {"type": "circle", "size": 28, "color": "#111", "opacity": 1},
    "encoding": {"x": {"field": "g", "type": "quantitative"}, "y": {"field": "v", "type": "quantitative"}}},
   {"data": {"name": "brk"}, "transform": [{"filter": "datum.panel === 'A2'"}], "mark": {"type": "rule", "color": "#333", "strokeWidth": 1.5},
    "encoding": {"x": {"field": "x", "type": "quantitative"}, "x2": {"field": "x2"}, "y": {"field": "y", "type": "quantitative"}, "y2": {"field": "y2"}}},
   {"data": {"name": "stars"}, "transform": [{"filter": "datum.panel === 'A2'"}], "mark": {"type": "text", "fontSize": 18, "color": "#333", "align": "center", "baseline": "alphabetic"},
    "encoding": {"x": {"field": "x", "type": "quantitative"}, "y": {"field": "y", "type": "quantitative"}, "text": {"field": "s"}}}
  ]}
 ]}
]},
{"spacing": 25, "vconcat": [
 {"spacing": 94, "bounds": "flush", "hconcat": [
  {"width": 316, "height": 230, "layer": [
   {"data": {"name": "ld"}, "mark": {"type": "rect", "fill": "#ffffff", "stroke": "#333", "strokeWidth": 1},
    "encoding": {
     "x": {"field": "s", "type": "quantitative", "scale": {"domain": [24, 168], "nice": false, "zero": false}, "axis": {"values": [24,48,72,96,120,144,168], "tickCount": 20, "format": "d", "domain": false, "ticks": false, "labelPadding": 6, "title": null, "labelFlush": false, "labelOverlap": false}},
     "x2": {"field": "e"},
     "y": {"datum": 0, "type": "quantitative", "scale": {"domain": [-9, 240], "nice": false, "zero": false}, "axis": {"values": [0,40,80,120,160,200,240], "tickCount": 20, "format": "d", "labelOverlap": false, "title": ["Bioluminescence", "(counts per second)"], "titleFontSize": 16, "titleFontWeight": "bold", "titleLineHeight": 20, "titlePadding": 18, "minExtent": 40, "maxExtent": 40, "tickSize": 4, "labelPadding": 6, "domainColor": "#888", "tickColor": "#888", "domainWidth": 1.5}},
     "y2": {"datum": -9}}},
   {"data": {"name": "ld"}, "transform": [{"filter": "datum.p === 'D'"}], "mark": {"type": "rect", "fill": "#bfbfbf", "stroke": "#333", "strokeWidth": 1},
    "encoding": {"x": {"field": "s", "type": "quantitative"}, "x2": {"field": "e"}, "y": {"datum": 0, "type": "quantitative"}, "y2": {"datum": -9}}},
   {"data": {"name": "cca"}, "mark": {"type": "line", "color": "#4d4d4d", "strokeWidth": 1.2, "point": {"shape": "circle", "filled": true, "fill": "#ffffff", "stroke": "#333", "strokeWidth": 0.9, "size": 17}},
    "encoding": {"x": {"field": "t", "type": "quantitative"}, "y": {"field": "ms", "type": "quantitative"}}},
   {"data": {"name": "cca"}, "mark": {"type": "line", "color": "#404040", "strokeWidth": 1.2, "point": {"shape": "circle", "filled": true, "fill": "#333", "stroke": "#333", "size": 16}},
    "encoding": {"x": {"field": "t", "type": "quantitative"}, "y": {"field": "fe", "type": "quantitative"}}},
   {"data": {"name": "cca"}, "mark": {"type": "line", "color": "#9dbb55", "strokeWidth": 1.2, "point": {"shape": "triangle-up", "filled": true, "fill": "#9dbb55", "size": 22}},
    "encoding": {"x": {"field": "t", "type": "quantitative"}, "y": {"field": "mslin", "type": "quantitative"}}},
   {"data": {"name": "cca"}, "mark": {"type": "line", "color": "#4a78a8", "strokeWidth": 1.1, "point": {"shape": "triangle-up", "filled": true, "fill": "#3e8a2a", "size": 22}},
    "encoding": {"x": {"field": "t", "type": "quantitative"}, "y": {"field": "felin", "type": "quantitative"}}},
   {"data": {"name": "leg"}, "transform": [{"filter": "datum.set === 'Lin'"}],
    "mark": {"type": "rule", "strokeWidth": 2},
    "encoding": {"x": {"datum": 91.9, "type": "quantitative"}, "x2": {"datum": 110.6}, "y": {"field": "lv", "type": "quantitative"},
     "color": {"field": "label", "type": "nominal", "scale": {"domain": ["1/2 MS", "-Fe", "1/2 MS + NF", "-Fe + NF", "1/2 MS + Lin", "-Fe + Lin"], "range": ["#4d4d4d", "#404040", "#8cc4e0", "#3e75b0", "#9dbb55", "#4a78a8"]}, "legend": null}}},
   {"data": {"name": "leg"}, "transform": [{"filter": "datum.set === 'Lin'"}],
    "mark": {"type": "point", "filled": true, "size": 30, "strokeWidth": 1, "opacity": 1},
    "encoding": {"x": {"datum": 101, "type": "quantitative"}, "y": {"field": "lv", "type": "quantitative"},
     "shape": {"field": "label", "type": "nominal", "scale": {"domain": ["1/2 MS", "-Fe", "1/2 MS + NF", "-Fe + NF", "1/2 MS + Lin", "-Fe + Lin"], "range": ["circle", "circle", "triangle-up", "triangle-up", "triangle-up", "triangle-up"]}, "legend": null},
     "fill": {"field": "label", "type": "nominal", "scale": {"domain": ["1/2 MS", "-Fe", "1/2 MS + NF", "-Fe + NF", "1/2 MS + Lin", "-Fe + Lin"], "range": ["#ffffff", "#333333", "#8cc4e0", "#3e75b0", "#9dbb55", "#3e8a2a"]}, "legend": null},
     "stroke": {"field": "label", "type": "nominal", "scale": {"domain": ["1/2 MS", "-Fe", "1/2 MS + NF", "-Fe + NF", "1/2 MS + Lin", "-Fe + Lin"], "range": ["#333333", "#333333", "#8cc4e0", "#3e75b0", "#9dbb55", "#3e8a2a"]}, "legend": null}}},
   {"data": {"name": "leg"}, "transform": [{"filter": "datum.set === 'Lin'"}],
    "mark": {"type": "text", "align": "left", "baseline": "middle", "fontSize": 17, "color": "#222"},
    "encoding": {"x": {"datum": 115.2, "type": "quantitative"}, "y": {"field": "lv", "type": "quantitative"}, "text": {"field": "label"}}},
   {"data": {"values": [{"lab": "CCA1:LUC2"}]}, "mark": {"type": "text", "align": "left", "baseline": "middle", "fontSize": 17, "fontWeight": "bold", "fontStyle": "italic", "color": "#111"},
    "encoding": {"x": {"datum": 36.3, "type": "quantitative"}, "y": {"datum": 223.8, "type": "quantitative"}, "text": {"field": "lab"}}},
   {"data": {"values": [{"lab": "B"}]}, "mark": {"type": "text", "align": "left", "baseline": "middle", "fontSize": 21, "fontWeight": "bold", "color": "#111"},
    "encoding": {"x": {"datum": -19.3, "type": "quantitative"}, "y": {"datum": 267.6, "type": "quantitative"}, "text": {"field": "lab"}}}
  ]},
  {"width": 227, "height": 220, "layer": [
   {"data": {"name": "boxes"}, "transform": [{"filter": "datum.panel === 'B1'"}], "mark": {"type": "rule", "color": "#808080", "strokeWidth": 1.2},
    "encoding": {
     "x": {"field": "g", "type": "quantitative", "scale": {"domain": [0.28, 4.72], "nice": false, "zero": false}, "axis": {"values": [1,2,3,4], "tickCount": 20, "labels": false, "tickSize": 5, "title": null, "domainColor": "#999", "tickColor": "#999", "domainWidth": 1.5}},
     "y": {"field": "lo", "type": "quantitative", "scale": {"domain": [22, 30], "nice": false, "zero": false}, "axis": {"values": [22,24,26,28,30], "tickCount": 20, "format": "d", "labelOverlap": false, "title": "Period length (h)", "titleFontSize": 18, "titleFontWeight": "bold", "titlePadding": 16, "minExtent": 28, "maxExtent": 28, "tickSize": 4, "labelPadding": 6, "domainColor": "#999", "tickColor": "#999", "domainWidth": 1.5}},
     "y2": {"field": "hi"}}},
   {"data": {"name": "boxes"}, "transform": [{"filter": "datum.panel === 'B1'"}], "mark": {"type": "bar", "orient": "vertical", "size": 31, "fill": "#c0c0c0", "stroke": "#6e6e6e", "strokeWidth": 1},
    "encoding": {"x": {"field": "g", "type": "quantitative"}, "y": {"field": "q1", "type": "quantitative"}, "y2": {"field": "q3"}}},
   {"data": {"name": "boxes"}, "transform": [{"filter": "datum.panel === 'B1'"}], "mark": {"type": "tick", "orient": "horizontal", "size": 31, "thickness": 1.3, "color": "#505050"},
    "encoding": {"x": {"field": "g", "type": "quantitative"}, "y": {"field": "med", "type": "quantitative"}}},
   {"data": {"name": "boxes"}, "transform": [{"filter": "datum.panel === 'B1'"}, {"fold": ["lo", "hi"], "as": ["k", "cv"]}], "mark": {"type": "tick", "orient": "horizontal", "size": 10, "thickness": 1.2, "color": "#808080"},
    "encoding": {"x": {"field": "g", "type": "quantitative"}, "y": {"field": "cv", "type": "quantitative"}}},
   {"data": {"name": "outl"}, "transform": [{"filter": "datum.panel === 'B1'"}], "mark": {"type": "circle", "size": 28, "color": "#111", "opacity": 1},
    "encoding": {"x": {"field": "g", "type": "quantitative"}, "y": {"field": "v", "type": "quantitative"}}},
   {"data": {"name": "brk"}, "transform": [{"filter": "datum.panel === 'B1'"}], "mark": {"type": "rule", "color": "#333", "strokeWidth": 1.5},
    "encoding": {"x": {"field": "x", "type": "quantitative"}, "x2": {"field": "x2"}, "y": {"field": "y", "type": "quantitative"}, "y2": {"field": "y2"}}},
   {"data": {"name": "stars"}, "transform": [{"filter": "datum.panel === 'B1'"}], "mark": {"type": "text", "fontSize": 18, "color": "#333", "align": "center", "baseline": "alphabetic"},
    "encoding": {"x": {"field": "x", "type": "quantitative"}, "y": {"field": "y", "type": "quantitative"}, "text": {"field": "s"}}}
  ]}
 ]},
 {"spacing": 94, "bounds": "flush", "hconcat": [
  {"width": 316, "height": 230, "layer": [
   {"data": {"name": "ld"}, "mark": {"type": "rect", "fill": "#ffffff", "stroke": "#333", "strokeWidth": 1},
    "encoding": {
     "x": {"field": "s", "type": "quantitative", "scale": {"domain": [24, 168], "nice": false, "zero": false}, "axis": {"values": [24,48,72,96,120,144,168], "tickCount": 20, "format": "d", "domain": false, "ticks": false, "labelPadding": 6, "title": "Time in LL (h)", "titleFontSize": 17, "titleFontWeight": "bold", "titlePadding": 19, "labelFlush": false, "labelOverlap": false}},
     "x2": {"field": "e"},
     "y": {"datum": 0, "type": "quantitative", "scale": {"domain": [-7, 160], "nice": false, "zero": false}, "axis": {"values": [0,40,80,120,160], "tickCount": 20, "format": "d", "labelOverlap": false, "title": ["Bioluminescence", "(counts per second)"], "titleFontSize": 16, "titleFontWeight": "bold", "titleLineHeight": 20, "titlePadding": 18, "minExtent": 40, "maxExtent": 40, "tickSize": 4, "labelPadding": 6, "domainColor": "#888", "tickColor": "#888", "domainWidth": 1.5}},
     "y2": {"datum": -7}}},
   {"data": {"name": "ld"}, "transform": [{"filter": "datum.p === 'D'"}], "mark": {"type": "rect", "fill": "#bfbfbf", "stroke": "#333", "strokeWidth": 1},
    "encoding": {"x": {"field": "s", "type": "quantitative"}, "x2": {"field": "e"}, "y": {"datum": 0, "type": "quantitative"}, "y2": {"datum": -7}}},
   {"data": {"name": "toc"}, "mark": {"type": "line", "color": "#4d4d4d", "strokeWidth": 1.2, "point": {"shape": "circle", "filled": true, "fill": "#ffffff", "stroke": "#333", "strokeWidth": 0.9, "size": 17}},
    "encoding": {"x": {"field": "t", "type": "quantitative"}, "y": {"field": "ms", "type": "quantitative"}}},
   {"data": {"name": "toc"}, "mark": {"type": "line", "color": "#404040", "strokeWidth": 1.2, "point": {"shape": "circle", "filled": true, "fill": "#333", "stroke": "#333", "size": 16}},
    "encoding": {"x": {"field": "t", "type": "quantitative"}, "y": {"field": "fe", "type": "quantitative"}}},
   {"data": {"name": "toc"}, "mark": {"type": "line", "color": "#9dbb55", "strokeWidth": 1.2, "point": {"shape": "triangle-up", "filled": true, "fill": "#9dbb55", "size": 22}},
    "encoding": {"x": {"field": "t", "type": "quantitative"}, "y": {"field": "mslin", "type": "quantitative"}}},
   {"data": {"name": "toc"}, "mark": {"type": "line", "color": "#4a78a8", "strokeWidth": 1.1, "point": {"shape": "triangle-up", "filled": true, "fill": "#3e8a2a", "size": 22}},
    "encoding": {"x": {"field": "t", "type": "quantitative"}, "y": {"field": "felin", "type": "quantitative"}}},
   {"data": {"values": [{"lab": "TOC1:LUC2"}]}, "mark": {"type": "text", "align": "left", "baseline": "middle", "fontSize": 17, "fontWeight": "bold", "fontStyle": "italic", "color": "#111"},
    "encoding": {"x": {"datum": 37.2, "type": "quantitative"}, "y": {"datum": 157.2, "type": "quantitative"}, "text": {"field": "lab"}}}
  ]},
  {"width": 227, "height": 221, "layer": [
   {"data": {"name": "boxes"}, "transform": [{"filter": "datum.panel === 'B2'"}], "mark": {"type": "rule", "color": "#808080", "strokeWidth": 1.2},
    "encoding": {
     "x": {"field": "g", "type": "quantitative", "scale": {"domain": [0.28, 4.72], "nice": false, "zero": false}, "axis": {"values": [1,2,3,4], "tickCount": 20, "labelExpr": "datum.value === 1 ? '½ MS' : datum.value === 2 ? '- Fe' : datum.value === 3 ? '½ MS +Lin' : '- Fe + Lin'", "labelAngle": -45, "labelAlign": "right", "labelBaseline": "middle", "labelPadding": 6, "labelFlush": false, "labelOverlap": false, "labelBound": false, "tickSize": 5, "title": null, "domainColor": "#999", "tickColor": "#999", "domainWidth": 1.5}},
     "y": {"field": "lo", "type": "quantitative", "scale": {"domain": [22, 28], "nice": false, "zero": false}, "axis": {"values": [22,23,24,25,26,27,28], "tickCount": 20, "format": "d", "labelOverlap": false, "title": "Period length (h)", "titleFontSize": 18, "titleFontWeight": "bold", "titlePadding": 16, "minExtent": 28, "maxExtent": 28, "tickSize": 4, "labelPadding": 6, "domainColor": "#999", "tickColor": "#999", "domainWidth": 1.5}},
     "y2": {"field": "hi"}}},
   {"data": {"name": "boxes"}, "transform": [{"filter": "datum.panel === 'B2'"}], "mark": {"type": "bar", "orient": "vertical", "size": 31, "fill": "#c0c0c0", "stroke": "#6e6e6e", "strokeWidth": 1},
    "encoding": {"x": {"field": "g", "type": "quantitative"}, "y": {"field": "q1", "type": "quantitative"}, "y2": {"field": "q3"}}},
   {"data": {"name": "boxes"}, "transform": [{"filter": "datum.panel === 'B2'"}], "mark": {"type": "tick", "orient": "horizontal", "size": 31, "thickness": 1.3, "color": "#505050"},
    "encoding": {"x": {"field": "g", "type": "quantitative"}, "y": {"field": "med", "type": "quantitative"}}},
   {"data": {"name": "boxes"}, "transform": [{"filter": "datum.panel === 'B2'"}, {"fold": ["lo", "hi"], "as": ["k", "cv"]}], "mark": {"type": "tick", "orient": "horizontal", "size": 10, "thickness": 1.2, "color": "#808080"},
    "encoding": {"x": {"field": "g", "type": "quantitative"}, "y": {"field": "cv", "type": "quantitative"}}},
   {"data": {"name": "outl"}, "transform": [{"filter": "datum.panel === 'B2'"}], "mark": {"type": "circle", "size": 28, "color": "#111", "opacity": 1},
    "encoding": {"x": {"field": "g", "type": "quantitative"}, "y": {"field": "v", "type": "quantitative"}}},
   {"data": {"name": "brk"}, "transform": [{"filter": "datum.panel === 'B2'"}], "mark": {"type": "rule", "color": "#333", "strokeWidth": 1.5},
    "encoding": {"x": {"field": "x", "type": "quantitative"}, "x2": {"field": "x2"}, "y": {"field": "y", "type": "quantitative"}, "y2": {"field": "y2"}}},
   {"data": {"name": "stars"}, "transform": [{"filter": "datum.panel === 'B2'"}], "mark": {"type": "text", "fontSize": 18, "color": "#333", "align": "center", "baseline": "alphabetic"},
    "encoding": {"x": {"field": "x", "type": "quantitative"}, "y": {"field": "y", "type": "quantitative"}, "text": {"field": "s"}}}
  ]}
 ]}
]}
]
}
